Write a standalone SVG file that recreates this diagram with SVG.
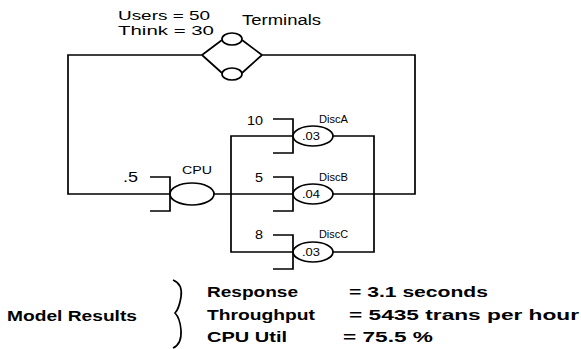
<svg xmlns="http://www.w3.org/2000/svg" width="581" height="349" viewBox="0 0 581 349">
<style>
.ln{fill:none;stroke:#000;stroke-width:1.7;stroke-linejoin:miter}
.el{fill:#fff;stroke:#000;stroke-width:1.7}
.t{font-family:"Liberation Sans",Arial,sans-serif;fill:#000}
.b{font-family:"Liberation Sans",Arial,sans-serif;font-weight:bold;fill:#000;font-size:15px}
</style>
<rect width="581" height="349" fill="#fff"/>
<g id="connectors">
<polyline class="ln" points="170,194 68,194 68,55 202,55"/>
<polyline class="ln" points="262,55 415,55 415,194 333,194"/>
<line class="ln" x1="214" y1="194" x2="293" y2="194"/>
<polyline class="ln" points="293,136 231,136 231,252 293,252"/>
<polyline class="ln" points="333,136 374,136 374,252 333,252"/>
</g>
<g id="terminals">
<path class="ln" d="M202,55 L222,40 M242,40 L262,55 M202,55 L222,73 M242,73 L262,55"/>
<ellipse class="el" cx="232" cy="39" rx="10" ry="6"/>
<ellipse class="el" cx="232" cy="74" rx="10" ry="6"/>
<text class="t" x="118" y="20" font-size="13.5" textLength="92" lengthAdjust="spacingAndGlyphs">Users = 50</text>
<text class="t" x="118" y="35" font-size="13.5" textLength="96" lengthAdjust="spacingAndGlyphs">Think = 30</text>
<text class="t" x="242" y="25" font-size="14" textLength="79" lengthAdjust="spacingAndGlyphs">Terminals</text>
</g>
<g id="cpu">
<path class="ln" d="M150,177 H170 V211 H150"/>
<ellipse class="el" cx="192" cy="194" rx="22" ry="11"/>
<text class="t" x="123" y="182" font-size="14.5" textLength="15" lengthAdjust="spacingAndGlyphs">.5</text>
<text class="t" x="182" y="174" font-size="10" textLength="30" lengthAdjust="spacingAndGlyphs">CPU</text>
</g>
<g id="discA">
<path class="ln" d="M273,119 H293 V153 H273"/>
<ellipse class="el" cx="313" cy="136" rx="20" ry="10"/>
<text class="t" x="302" y="140" font-size="10.5" textLength="18" lengthAdjust="spacingAndGlyphs">.03</text>
<text class="t" x="247" y="125" font-size="13" textLength="16" lengthAdjust="spacingAndGlyphs">10</text>
<text class="t" x="319" y="123" font-size="10" textLength="29" lengthAdjust="spacingAndGlyphs">DiscA</text>
</g>
<g id="discB">
<path class="ln" d="M273,177 H293 V211 H273"/>
<ellipse class="el" cx="313" cy="194" rx="20" ry="10"/>
<text class="t" x="302" y="198" font-size="10.5" textLength="18" lengthAdjust="spacingAndGlyphs">.04</text>
<text class="t" x="255" y="182" font-size="13" textLength="8" lengthAdjust="spacingAndGlyphs">5</text>
<text class="t" x="319" y="181" font-size="10" textLength="29" lengthAdjust="spacingAndGlyphs">DiscB</text>
</g>
<g id="discC">
<path class="ln" d="M273,235 H293 V269 H273"/>
<ellipse class="el" cx="313" cy="252" rx="20" ry="10"/>
<text class="t" x="302" y="256" font-size="10.5" textLength="18" lengthAdjust="spacingAndGlyphs">.03</text>
<text class="t" x="255" y="239" font-size="13" textLength="8" lengthAdjust="spacingAndGlyphs">8</text>
<text class="t" x="319" y="238" font-size="10" textLength="29" lengthAdjust="spacingAndGlyphs">DiscC</text>
</g>
<g id="results">
<text class="b" x="7" y="321" textLength="130" lengthAdjust="spacingAndGlyphs">Model Results</text>
<path class="ln" stroke-width="1.4" d="M173,280 Q183,284 181,297 Q179,309 175,313 Q180,318 181,330 Q182,344 173,348"/>
<text class="b" x="207" y="297" textLength="91" lengthAdjust="spacingAndGlyphs">Response</text>
<text class="b" x="207" y="320" textLength="108" lengthAdjust="spacingAndGlyphs">Throughput</text>
<text class="b" x="207" y="342" textLength="80" lengthAdjust="spacingAndGlyphs">CPU Util</text>
<text class="b" x="349" y="297" textLength="139" lengthAdjust="spacingAndGlyphs">= 3.1 seconds</text>
<text class="b" x="349" y="320" textLength="230" lengthAdjust="spacingAndGlyphs">= 5435 trans per hour</text>
<text class="b" x="343" y="342" textLength="90" lengthAdjust="spacingAndGlyphs">= 75.5 %</text>
</g>
</svg>
